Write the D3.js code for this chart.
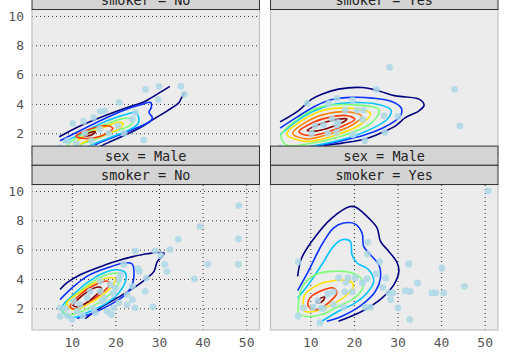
<!DOCTYPE html>
<html><head><meta charset="utf-8">
<script src="https://cdn.jsdelivr.net/npm/d3@7"></script>
<style>html,body{margin:0;padding:0;background:#fff;} svg{display:block;}</style>
</head><body>
<svg id="chart" width="507" height="357"></svg>
<script>
// ---------- data ----------
const sexLevels = ["Female", "Male"];
const smokerLevels = ["No", "Yes"];
const xTicks = [10, 20, 30, 40, 50];
const yTicks = [2, 4, 6, 8, 10];
const xDomain = [0.87, 53.05];
const yDomain = [0.52, 10.44];

const pointsFemaleNo = [[10.2,2.67],[12.7,2.81],[15.0,3.08],[17.5,3.53],[16.5,3.5],[20.9,4.1],[20.6,2.5],[16.4,2.3],[26.5,1.54],[26.9,5.0],[30.0,5.2],[29.8,4.3],[35.0,5.2],[35.8,4.67],[23.9,2.97],[24.6,3.42],[13.0,2.0],[18.5,2.0],[14.5,1.5],[11.0,1.3],[22.0,2.0],[9.0,1.5],[7.25,1.0],[12.0,1.0],[15.0,1.0]];
const pointsFemaleYes = [[28.2,6.5],[43.1,5.0],[44.3,2.5],[25.2,5.0],[19.7,4.26],[16.1,4.38],[14.2,4.03],[9.3,4.03],[26.9,3.19],[30.1,3.15],[27.1,2.06],[22.0,2.95],[20.7,3.58],[22.2,3.58],[18.0,3.58],[13.0,2.56],[16.1,2.56],[11.1,2.51],[16.4,2.74],[16.0,2.06],[3.07,1.0],[10.3,2.0],[14.0,2.0],[19.8,1.9],[22.5,1.5],[15.0,3.0]];
const pointsMaleNo = [[48.3,9.0],[39.4,7.58],[48.2,6.73],[48.2,5.0],[41.2,5.0],[38.1,4.0],[34.4,6.7],[32.5,6.0],[29.1,5.92],[24.6,5.92],[30.4,5.6],[31.3,5.0],[31.8,4.5],[25.5,4.5],[25.2,4.7],[27.1,4.06],[26.8,3.16],[23.9,2.59],[22.7,2.25],[24.5,2.03],[28.6,2.1],[19.1,1.57],[19.6,2.03],[20.8,2.37],[18.1,1.8],[23.9,3.5],[15.4,1.69],[11.2,1.8],[10.0,1.25],[7.3,2.03],[7.3,1.46],[11.9,2.25],[13.5,2.71],[16.5,3.16],[18.8,3.61],[20.8,3.95],[21.2,4.29],[21.9,5.0],[16.5,3.84],[14.2,3.16],[10.4,2.48],[22.7,2.93],[20.0,3.39],[17.0,2.5],[15.0,2.0],[12.5,1.5],[9.0,1.5],[8.5,2.0],[17.5,2.7],[19.5,3.0]];
const pointsMaleYes = [[50.8,10.0],[40.2,4.73],[45.35,3.5],[37.9,3.05],[38.8,3.05],[40.6,3.05],[34.6,3.73],[32.6,5.02],[31.8,3.2],[32.9,3.15],[32.8,1.23],[30.1,2.03],[28.4,2.59],[28.0,3.05],[28.9,3.05],[27.3,4.07],[26.6,3.43],[25.1,4.34],[23.0,4.02],[23.1,5.70],[23.2,6.5],[25.9,5.16],[23.8,2.07],[22.6,2.07],[20.3,4.07],[18.6,4.07],[16.5,4.07],[18.2,3.77],[17.9,3.12],[19.6,3.12],[15.3,3.12],[7.25,5.15],[12.2,1.0],[7.2,1.46],[8.4,2.03],[10.7,2.07],[11.7,2.52],[17.6,2.07],[15.3,2.25],[21.9,3.73],[13.0,2.0],[14.0,3.0],[12.5,2.0]];

// density contour lines (total_bill, tip), by level
const contoursFemaleNo = [
  {level:0, closed:false, pts:[[7.14,1.76],[11.15,2.40],[16.54,3.08],[22.7,3.76],[26.5,4.14],[29.6,4.67],[32.5,5.2]]},
  {level:0, closed:false, pts:[[35.8,4.72],[35.0,4.33],[34.6,4.10],[31.9,3.53],[28.8,2.97],[25.8,2.40],[21.9,1.83],[18.1,1.33],[15.4,0.93]]},
  {level:1, closed:false, pts:[[7.30,1.49],[12.68,2.29],[18.08,3.08],[22.70,3.65],[25.77,3.94],[28.08,4.10],[28.24,3.76],[27.69,3.42],[28.48,3.08],[28.08,2.85],[24.23,2.29],[20.39,1.83],[16.54,1.38],[14.23,1.04],[11,0.6]]},
  {level:2, closed:false, pts:[[8.06,1.38],[12.68,2.06],[18.08,2.85],[21.92,3.24],[24.62,3.42],[25.38,3.01],[25.15,2.63],[22.70,2.17],[18.85,1.72],[14.99,1.27],[12.68,0.93],[10,0.6]]},
  {level:3, closed:true, pts:[[9.61,1.38],[14.23,2.17],[18.85,2.74],[22.70,3.03],[24.09,2.85],[23.46,2.56],[19.61,2.10],[14.99,1.56],[11.15,1.15],[9.0,0.95]]},
  {level:4, closed:true, pts:[[10.37,1.15],[13.46,1.95],[17.30,2.40],[20.39,2.74],[21.78,2.63],[20.76,2.29],[16.54,1.79],[12.68,1.38],[10.5,0.95]]},
  {level:6, closed:true, pts:[[10.99,1.79],[14.23,2.29],[18.08,2.51],[19.38,2.33],[17.30,1.88],[13.46,1.65]]},
  {level:7, closed:true, pts:[[12.84,1.83],[14.23,2.06],[15.38,2.10],[14.92,1.95],[13.53,1.81]]}
];
const contoursFemaleYes = [
  {level:0, closed:false, pts:[[3.07,2.78],[7.23,3.53],[10.32,4.33],[12.63,4.67],[16.47,5.01],[21.87,5.12],[25.70,4.89],[29.56,4.55],[34.94,4.33],[36.10,3.92],[34.94,3.53],[31.87,3.08],[29.56,2.51],[26.49,2.06],[22.63,1.61],[17.25,1.33],[14.16,1.20],[9.93,0.93]]},
  {level:1, closed:false, pts:[[3.07,2.35],[7.2,3.15],[11.1,3.85],[15,4.3],[19.6,4.45],[24.2,4.4],[28.8,4.15],[30.9,3.7],[30.7,3.2],[29.2,2.8],[26.5,2.35],[22.6,1.9],[18,1.55],[12.6,1.2],[7.6,1.0],[3.07,0.85]]},
  {level:2, closed:false, pts:[[3.07,1.9],[6.5,2.75],[10.3,3.45],[15,3.95],[20.3,4.1],[25,4.0],[28.5,3.6],[27.8,3.0],[24,2.3],[18.8,1.7],[13.4,1.3],[8.8,1.05],[4.9,0.95]]},
  {level:3, closed:true, pts:[[3.3,1.85],[7.5,3.05],[12.5,3.8],[19.5,3.95],[25.8,3.6],[24,2.7],[16.5,1.75],[9,1.25],[4.5,1.2]]},
  {level:4, closed:true, pts:[[4.6,1.95],[8.5,2.95],[13.5,3.6],[19.5,3.7],[23.8,3.35],[21.5,2.6],[15,1.8],[9,1.45]]},
  {level:5, closed:true, pts:[[6.0,2.0],[9.5,2.85],[14,3.35],[19,3.45],[21.8,3.15],[19.5,2.55],[14,1.92],[9,1.62]]},
  {level:6, closed:true, pts:[[7.4,2.1],[10.5,2.72],[14.5,3.1],[18.5,3.2],[20.2,2.95],[17.5,2.5],[13.5,2.05],[9.5,1.85]]},
  {level:7, closed:true, pts:[[9.3,2.2],[12,2.6],[15,2.88],[18.4,2.98],[17,2.68],[14,2.35],[11,2.15]]}
];
const contoursMaleNo = [
  {level:0, closed:false, pts:[[7.30,3.28],[8.85,3.73],[11.92,4.29],[15.77,4.75],[19.61,5.16],[24.23,5.54],[27.32,5.72],[31.16,5.77],[30.79,5.54],[29.63,5.20],[28.85,4.52],[27.32,4.07],[24.23,3.39],[20.39,2.71],[16.54,2.03],[13.07,1.30]]},
  {level:1, closed:false, pts:[[7.30,2.59],[9.61,3.27],[13.46,4.18],[18.08,4.75],[21.92,5.09],[23.86,5.02],[24.23,4.63],[23.86,3.61],[22.31,2.93],[18.85,2.25],[14.99,1.69],[11.15,1.30]]},
  {level:2, closed:true, pts:[[7.69,2.03],[10.0,2.82],[13.46,3.73],[17.30,4.41],[20.39,4.63],[22.31,4.41],[22.31,3.84],[20.76,3.05],[18.08,2.37],[14.23,1.80],[10.76,1.39],[8.85,1.50]]},
  {level:3, closed:true, pts:[[8.3,2.14],[11.15,2.97],[14.23,3.7],[18.08,4.3],[20.9,4.35],[21.0,3.84],[19.24,3.1],[16.54,2.45],[12.68,1.85],[9.61,1.55],[8.06,1.75]]},
  {level:4, closed:true, pts:[[8.85,2.37],[11.92,3.1],[14.99,3.7],[18.4,4.08],[19.9,4.0],[19.5,3.6],[17.0,2.9],[13.84,2.3],[10.37,1.9]]},
  {level:6, closed:true, pts:[[9.6,2.15],[12,2.95],[15,3.55],[18.2,3.85],[18.6,3.6],[16.5,2.95],[13,2.3],[10.5,1.95]]},
  {level:7, closed:true, pts:[[10.37,2.2],[13.46,3.1],[16.2,3.45],[16.8,3.35],[14.99,2.75],[11.52,2.12]]}
];
const contoursMaleYes = [
  {level:0, closed:false, pts:[[7.09,4.18],[8.01,5.43],[10.32,6.56],[14.94,8.15],[19.17,8.94],[20.32,8.90],[23.40,8.15],[25.33,7.47],[26.10,6.56],[28.01,5.88],[29.95,5.09],[30.32,4.52],[29.17,3.61],[26.49,2.71],[21.87,1.80],[16.47,1.12]]},
  {level:1, closed:false, pts:[[7.09,3.21],[9.54,4.52],[12.63,6.33],[15.31,7.47],[17.62,7.81],[20.32,7.74],[21.87,7.13],[22.24,6.22],[23.79,5.65],[25.70,4.97],[26.10,4.07],[24.94,3.16],[21.87,2.25],[17.25,1.46],[13.79,1.12]]},
  {level:2, closed:false, pts:[[7.09,2.71],[9.54,3.61],[12.63,4.97],[15.31,6.22],[17.25,6.67],[19.17,6.56],[19.56,5.65],[20.72,5.09],[23.40,4.63],[24.55,3.84],[23.02,3.05],[20.32,2.37],[16.47,1.80],[12.63,1.12]]},
  {level:3, closed:true, pts:[[7.23,2.03],[8.01,3.39],[11.09,4.29],[14.94,4.52],[19.56,4.41],[21.87,3.95],[21.87,3.27],[19.56,2.59],[16.47,2.14],[12.63,1.57],[8.78,1.46],[7.23,1.71]]},
  {level:4, closed:true, pts:[[8.38,2.14],[8.78,2.93],[11.85,3.61],[15.70,3.89],[19.17,3.84],[19.93,3.50],[18.01,2.82],[14.94,2.25],[11.09,1.80],[8.78,1.80]]},
  {level:6, closed:true, pts:[[9.54,2.14],[9.93,2.71],[12.24,3.16],[15.31,3.39],[16.10,3.05],[14.16,2.37],[11.48,1.91]]},
  {level:7, closed:true, pts:[[11.48,2.42],[12.24,2.66],[13.28,2.76],[12.93,2.52],[11.78,2.35]]}
];

const levelColors = ["#00007f", "#0a32ff", "#00c4ff", "#7dff7a", "#ffe100", "#ff8000", "#ff3c00", "#800000"];

const panels = [
  {row:0, col:0, sex:sexLevels[0], smoker:smokerLevels[0], points:pointsFemaleNo, contours:contoursFemaleNo},
  {row:0, col:1, sex:sexLevels[0], smoker:smokerLevels[1], points:pointsFemaleYes, contours:contoursFemaleYes},
  {row:1, col:0, sex:sexLevels[1], smoker:smokerLevels[0], points:pointsMaleNo, contours:contoursMaleNo},
  {row:1, col:1, sex:sexLevels[1], smoker:smokerLevels[1], points:pointsMaleYes, contours:contoursMaleYes}
];

// ---------- layout ----------
const colX = [32, 270.5], rowY = [9.5, 184.5];
const pw = 227.5, ph = 145.5, stripH = 19.2;
const FONT = "DejaVu Sans Mono";

const svg = d3.select("#chart");
const x = d3.scaleLinear().domain(xDomain).range([0, pw]);
const y = d3.scaleLinear().domain(yDomain).range([ph, 0]);

const lineOpen = d3.line().x(d => x(d[0])).y(d => y(d[1])).curve(d3.curveCatmullRom.alpha(0.5));
const lineClosed = d3.line().x(d => x(d[0])).y(d => y(d[1])).curve(d3.curveCatmullRomClosed.alpha(0.5));

const defs = svg.append("defs");

panels.forEach((p, i) => {
  const g = svg.append("g").attr("transform", `translate(${colX[p.col]},${rowY[p.row]})`);
  defs.append("clipPath").attr("id", "clip" + i)
    .append("rect").attr("width", pw).attr("height", ph);
  g.append("rect").attr("width", pw).attr("height", ph).attr("fill", "#ececec");
  const inner = g.append("g").attr("clip-path", `url(#clip${i})`);

  if (p.col === 0) {
    inner.append("g").call(d3.axisLeft(y).tickValues(yTicks).tickSize(-pw).tickFormat(""))
      .call(a => a.select(".domain").remove())
      .selectAll("line").attr("stroke", "#333").attr("stroke-dasharray", "1,3").attr("stroke-width", 1);
  }
  if (p.row === 1) {
    inner.append("g").attr("transform", `translate(0,${ph})`)
      .call(d3.axisBottom(x).tickValues(xTicks).tickSize(-ph).tickFormat(""))
      .call(a => a.select(".domain").remove())
      .selectAll("line").attr("stroke", "#333").attr("stroke-dasharray", "1,3").attr("stroke-width", 1);
  }

  inner.append("g").selectAll("path").data(p.contours).join("path")
    .attr("d", c => (c.closed ? lineClosed : lineOpen)(c.pts))
    .attr("fill", "none")
    .attr("stroke", c => levelColors[c.level])
    .attr("stroke-width", 1.6);

  inner.append("g").selectAll("circle").data(p.points).join("circle")
    .attr("cx", d => x(d[0])).attr("cy", d => y(d[1])).attr("r", 3.4)
    .attr("fill", "#add8e6").attr("fill-opacity", 0.85);

  g.append("rect").attr("width", pw).attr("height", ph)
    .attr("fill", "none").attr("stroke", "#c4c4c4").attr("stroke-width", 1.2);

  if (p.col === 0) {
    g.append("g").call(d3.axisLeft(y).tickValues(yTicks).tickSize(0).tickPadding(8))
      .call(a => a.select(".domain").remove())
      .selectAll("text").attr("font-family", FONT).attr("font-size", 13).attr("fill", "#555");
  }
  if (p.row === 1) {
    g.append("g").attr("transform", `translate(0,${ph})`)
      .call(d3.axisBottom(x).tickValues(xTicks).tickSize(0).tickPadding(8))
      .call(a => a.select(".domain").remove())
      .selectAll("text").attr("font-family", FONT).attr("font-size", 13).attr("fill", "#555");
  }
});

panels.forEach(p => {
  const labels = ["sex = " + p.sex, "smoker = " + p.smoker];
  labels.forEach((lab, k) => {
    const top = rowY[p.row] - (2 - k) * stripH;
    const sg = svg.append("g").attr("transform", `translate(${colX[p.col]},${top})`);
    sg.append("rect").attr("width", pw).attr("height", stripH)
      .attr("fill", "#d4d4d4").attr("stroke", "#333").attr("stroke-width", 1);
    sg.append("text").attr("x", pw / 2).attr("y", stripH / 2 + 5)
      .attr("text-anchor", "middle").attr("font-family", FONT).attr("font-size", 13.5)
      .attr("fill", "#222").text(lab);
  });
});
</script>
</body></html>
